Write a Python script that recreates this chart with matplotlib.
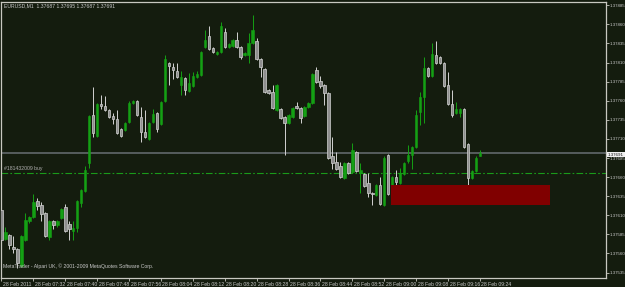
import matplotlib
matplotlib.use("Agg")
import matplotlib.pyplot as plt
import matplotlib.transforms as mtransforms
from matplotlib.patches import Rectangle
import numpy as np
import pandas as pd

# ---------------- data ----------------
symbol_header = "EURUSD,M1  1.37687 1.37695 1.37687 1.37691"
footer_text = "MetaTrader - Alpari UK, \u00a9 2001-2009 MetaQuotes Software Corp."
order_label = "#181432009 buy"

start_time = "2011-02-28 07:24"

opens = [1.37617, 1.37579, 1.37584, 1.37568, 1.37566, 1.37544, 1.37578, 1.37602, 1.37608, 1.37629,
         1.37623, 1.37613, 1.37582, 1.37602, 1.37597, 1.37606, 1.37621, 1.37599, 1.37589, 1.37593,
         1.37626, 1.37642, 1.37678, 1.37741, 1.37714, 1.37756, 1.37753, 1.37748, 1.37740, 1.37736,
         1.37723, 1.37722, 1.37732, 1.37757, 1.37760, 1.37739, 1.37719, 1.37710, 1.37732, 1.37744,
         1.37730, 1.37760, 1.37809, 1.37804, 1.37799, 1.37781, 1.37790, 1.37773, 1.37779, 1.37791,
         1.37794, 1.37830, 1.37845, 1.37829, 1.37821, 1.37824, 1.37850, 1.37830, 1.37832, 1.37840,
         1.37830, 1.37820, 1.37820, 1.37836, 1.37838, 1.37815, 1.37802, 1.37774, 1.37771, 1.37748,
         1.37749, 1.37739, 1.37731, 1.37739, 1.37753, 1.37751, 1.37740, 1.37752, 1.37757, 1.37800,
         1.37786, 1.37781, 1.37770, 1.37688, 1.37680, 1.37675, 1.37659, 1.37678, 1.37667, 1.37693,
         1.37665, 1.37664, 1.37652, 1.37639, 1.37637, 1.37650, 1.37623, 1.37689, 1.37638, 1.37660,
         1.37652, 1.37664, 1.37681, 1.37689, 1.37699, 1.37745, 1.37765, 1.37803, 1.37792, 1.37820,
         1.37817, 1.37809, 1.37781, 1.37756, 1.37744, 1.37744, 1.37749, 1.37703, 1.37659, 1.37668,
         1.37687]
highs = [1.37619, 1.37595, 1.37585, 1.37583, 1.37567, 1.37584, 1.37613, 1.37609, 1.37638, 1.37633,
         1.37627, 1.37614, 1.37604, 1.37604, 1.37604, 1.37619, 1.37625, 1.37602, 1.37602, 1.37630,
         1.37644, 1.37675, 1.37741, 1.37778, 1.37757, 1.37768, 1.37766, 1.37749, 1.37744, 1.37748,
         1.37724, 1.37732, 1.37760, 1.37761, 1.37761, 1.37752, 1.37748, 1.37732, 1.37749, 1.37745,
         1.37760, 1.37820, 1.37811, 1.37809, 1.37809, 1.37799, 1.37791, 1.37796, 1.37798, 1.37799,
         1.37825, 1.37853, 1.37858, 1.37830, 1.37825, 1.37863, 1.37855, 1.37836, 1.37841, 1.37850,
         1.37832, 1.37824, 1.37849, 1.37872, 1.37842, 1.37816, 1.37803, 1.37775, 1.37781, 1.37782,
         1.37751, 1.37740, 1.37743, 1.37752, 1.37758, 1.37752, 1.37753, 1.37758, 1.37796, 1.37804,
         1.37792, 1.37782, 1.37771, 1.37713, 1.37693, 1.37680, 1.37680, 1.37680, 1.37705, 1.37694,
         1.37678, 1.37665, 1.37665, 1.37640, 1.37651, 1.37660, 1.37688, 1.37690, 1.37661, 1.37669,
         1.37672, 1.37680, 1.37702, 1.37701, 1.37748, 1.37771, 1.37817, 1.37804, 1.37836, 1.37838,
         1.37819, 1.37811, 1.37798, 1.37774, 1.37758, 1.37751, 1.37751, 1.37705, 1.37669, 1.37688,
         1.37695]
lows = [1.37575, 1.37578, 1.37566, 1.37561, 1.37541, 1.37542, 1.37576, 1.37600, 1.37606, 1.37617,
        1.37602, 1.37582, 1.37578, 1.37592, 1.37595, 1.37605, 1.37588, 1.37578, 1.37578, 1.37588,
        1.37621, 1.37640, 1.37672, 1.37713, 1.37713, 1.37749, 1.37747, 1.37737, 1.37730, 1.37716,
        1.37713, 1.37720, 1.37731, 1.37756, 1.37740, 1.37706, 1.37711, 1.37709, 1.37731, 1.37719,
        1.37728, 1.37758, 1.37781, 1.37788, 1.37790, 1.37768, 1.37768, 1.37771, 1.37778, 1.37790,
        1.37792, 1.37829, 1.37826, 1.37823, 1.37820, 1.37823, 1.37829, 1.37829, 1.37830, 1.37829,
        1.37815, 1.37819, 1.37809, 1.37834, 1.37813, 1.37791, 1.37770, 1.37769, 1.37749, 1.37747,
        1.37736, 1.37689, 1.37730, 1.37737, 1.37749, 1.37731, 1.37739, 1.37751, 1.37756, 1.37783,
        1.37777, 1.37754, 1.37684, 1.37671, 1.37669, 1.37659, 1.37657, 1.37664, 1.37665, 1.37667,
        1.37639, 1.37647, 1.37634, 1.37623, 1.37635, 1.37623, 1.37622, 1.37637, 1.37630, 1.37647,
        1.37651, 1.37663, 1.37678, 1.37671, 1.37698, 1.37728, 1.37731, 1.37791, 1.37791, 1.37808,
        1.37808, 1.37778, 1.37754, 1.37739, 1.37743, 1.37739, 1.37698, 1.37639, 1.37657, 1.37667,
        1.37687]
closes = [1.37578, 1.37588, 1.37571, 1.37566, 1.37547, 1.37583, 1.37604, 1.37608, 1.37627, 1.37622,
          1.37612, 1.37583, 1.37602, 1.37597, 1.37602, 1.37618, 1.37589, 1.37592, 1.37593, 1.37629,
          1.37643, 1.37669, 1.37740, 1.37718, 1.37756, 1.37753, 1.37748, 1.37739, 1.37736, 1.37718,
          1.37714, 1.37731, 1.37757, 1.37760, 1.37741, 1.37719, 1.37713, 1.37731, 1.37743, 1.37723,
          1.37758, 1.37815, 1.37806, 1.37800, 1.37791, 1.37791, 1.37774, 1.37783, 1.37792, 1.37795,
          1.37824, 1.37840, 1.37828, 1.37824, 1.37824, 1.37858, 1.37830, 1.37834, 1.37840, 1.37830,
          1.37817, 1.37823, 1.37836, 1.37853, 1.37815, 1.37804, 1.37771, 1.37770, 1.37751, 1.37781,
          1.37737, 1.37731, 1.37741, 1.37751, 1.37751, 1.37737, 1.37752, 1.37757, 1.37795, 1.37785,
          1.37779, 1.37770, 1.37685, 1.37678, 1.37671, 1.37660, 1.37678, 1.37665, 1.37695, 1.37668,
          1.37669, 1.37648, 1.37639, 1.37638, 1.37650, 1.37625, 1.37685, 1.37638, 1.37660, 1.37654,
          1.37665, 1.37678, 1.37689, 1.37699, 1.37741, 1.37765, 1.37803, 1.37792, 1.37821, 1.37809,
          1.37809, 1.37779, 1.37756, 1.37741, 1.37749, 1.37749, 1.37699, 1.37659, 1.37668, 1.37685,
          1.37691]

bid_price = 1.37691
bid_label = "1.37691"
order_price = 1.37666
zone_start = "2011-02-28 09:01:45"
zone_end = "2011-02-28 09:41:35"
zone_low = 1.37623
zone_high = 1.37650

ytick_values = [1.37535, 1.37560, 1.37585, 1.37610, 1.37635, 1.37660, 1.37685, 1.37710,
                1.37735, 1.37760, 1.37785, 1.37810, 1.37835, 1.37860, 1.37885]
ytick_labels = ["1.37535", "1.37560", "1.37585", "1.37610", "1.37635", "1.37660", "1.37685", "1.37710",
                "1.37735", "1.37760", "1.37785", "1.37810", "1.37835", "1.37860", "1.37885"]
xtick_times = ["07:24", "07:32", "07:40", "07:48", "07:56", "08:04", "08:12", "08:20",
               "08:28", "08:36", "08:44", "08:52", "09:00", "09:08", "09:16", "09:24"]
xtick_labels = ["28 Feb 2011", "28 Feb 07:32", "28 Feb 07:40", "28 Feb 07:48", "28 Feb 07:56",
                "28 Feb 08:04", "28 Feb 08:12", "28 Feb 08:20", "28 Feb 08:28", "28 Feb 08:36",
                "28 Feb 08:44", "28 Feb 08:52", "28 Feb 09:00", "28 Feb 09:08", "28 Feb 09:16",
                "28 Feb 09:24"]

# ---------------- styles ----------------
BG = "#141c0e"
BULL = "#14a014"
BEAR_FACE = "#8e8e8e"
BEAR_EDGE = "#d2d2d2"
FRAME = "#c8c8c0"
TXT = "#c8c8c8"
FONT = "Liberation Sans"
FS = 3.7
FS_Y = 3.15

times = pd.date_range(start_time, periods=len(opens), freq="1min")
t0 = times[0]


def tpos(t):
    return (pd.Timestamp(t) - t0) / pd.Timedelta(minutes=1)


pos = np.array([tpos(t) for t in times])

fig = plt.figure(figsize=(6.25, 2.87), dpi=100, facecolor=BG)
W, H = 625.0, 287.0
ax = fig.add_axes([1.5 / W, (H - 277.5) / H, (606 - 1.5) / W, (277.5 - 1.5) / H])
ax.set_facecolor(BG)

body_w = 0.62
for x, o, h, l, c in zip(pos, opens, highs, lows, closes):
    bull = c >= o
    wick_col = BULL if bull else BEAR_EDGE
    ax.plot([x, x], [l, h], color=wick_col, lw=0.7, solid_capstyle="butt", zorder=2)
    bottom = min(o, c)
    height = max(abs(c - o), 0.000005)
    if bull:
        ax.add_patch(Rectangle((x - body_w / 2, bottom), body_w, height,
                               facecolor=BULL, edgecolor=BULL, lw=0.4, zorder=3))
    else:
        ax.add_patch(Rectangle((x - body_w / 2, bottom), body_w, height,
                               facecolor=BEAR_FACE, edgecolor=BEAR_EDGE, lw=0.5, zorder=3))

# bid line
ax.axhline(bid_price, color="#5c6264", lw=1.3, zorder=1)
# order line
ax.axhline(order_price, color="#1a9a1a", lw=0.8, linestyle=(0, (6, 2, 1.5, 2)), zorder=1)
ax.text(0.004, order_price + 0.00002, order_label,
        transform=mtransforms.blended_transform_factory(ax.transAxes, ax.transData),
        fontsize=FS, color="#b0b0b0", family=FONT, va="bottom", ha="left")

# zone rectangle
zx0, zx1 = tpos(zone_start), tpos(zone_end)
ax.add_patch(Rectangle((zx0, zone_low), zx1 - zx0, zone_high - zone_low,
                       facecolor="#800000", edgecolor="#800000", lw=0, zorder=4))

# axes limits (pixel layout: bar j at 1 + 3.99*j px)
ax.set_xlim((1.5 - 1.01) / 3.99, (606 - 1.01) / 3.99)
ax.set_ylim(1.375285, 1.378900)

for s in ax.spines.values():
    s.set_color(FRAME)
    s.set_linewidth(0.9)

# y axis on the right
ax.yaxis.tick_right()
ax.set_yticks(ytick_values)
ax.set_yticklabels(ytick_labels)
ax.tick_params(axis="y", direction="out", length=2, width=0.6, color=FRAME,
               labelsize=FS_Y, labelcolor=TXT, pad=0.8)
for lab in ax.get_yticklabels():
    lab.set_family(FONT)

# x axis
xt = [tpos("2011-02-28 " + t) for t in xtick_times]
ax.set_xticks(xt)
ax.set_xticklabels(xtick_labels)
ax.tick_params(axis="x", direction="out", length=2.5, width=0.6, color=FRAME,
               labelsize=FS, labelcolor=TXT, pad=0.8)
offset = mtransforms.ScaledTranslation(1.5 / 100, 0, fig.dpi_scale_trans)
for lab in ax.get_xticklabels():
    lab.set_family(FONT)
    lab.set_horizontalalignment("left")
    lab.set_transform(lab.get_transform() + offset)

# bid price label box
fig.text(608 / W, 1 - 154.5 / H, bid_label, fontsize=FS_Y, family=FONT, color="#101010",
         va="center", ha="left",
         bbox=dict(boxstyle="square,pad=0.15", facecolor="#f0f0f0", edgecolor="none"))

# header / footer texts
fig.text(4 / W, 1 - 5.5 / H, symbol_header, fontsize=FS, family=FONT, color=TXT, va="center", ha="left")
fig.text(3 / W, 1 - 266 / H, footer_text, fontsize=FS, family=FONT, color=TXT, va="center", ha="left")

fig.savefig("out.png", dpi=100, facecolor=BG)
